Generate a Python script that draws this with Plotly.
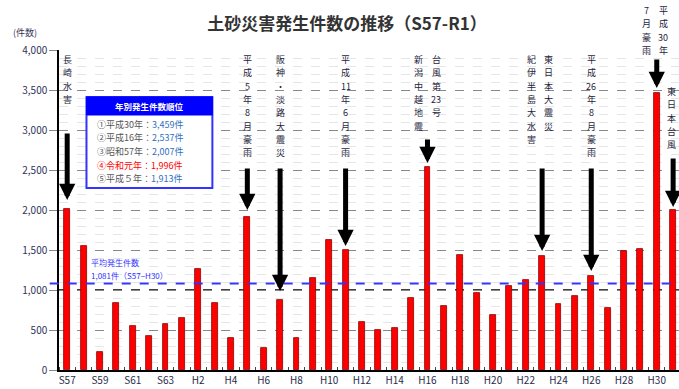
import plotly.graph_objects as go

# ---------------- data ----------------
categories = ["S57", "S58", "S59", "S60", "S61", "S62", "S63",
              "H1", "H2", "H3", "H4", "H5", "H6", "H7", "H8", "H9", "H10",
              "H11", "H12", "H13", "H14", "H15", "H16", "H17", "H18", "H19", "H20",
              "H21", "H22", "H23", "H24", "H25", "H26", "H27", "H28", "H29", "H30",
              "R1"]
counts = [2007, 1550, 220, 840, 550, 420, 570,
          650, 1260, 840, 400, 1913, 270, 875, 400, 1145, 1625,
          1500, 605, 500, 530, 895, 2537, 800, 1440, 960, 690,
          1055, 1125, 1420, 830, 930, 1180, 780, 1490, 1510, 3459,
          1996]
tick_labels = ["S57", "S59", "S61", "S63", "H2", "H4", "H6", "H8", "H10", "H12",
               "H14", "H16", "H18", "H20", "H22", "H24", "H26", "H28", "H30"]
average = 1081
avg_texts = ["平均発生件数", "1,081件（S57−H30）"]
ranking_title = "年別発生件数順位"
ranking = [("①平成30年：", "3,459件"), ("②平成16年：", "2,537件"), ("③昭和57年：", "2,007件"),
           ("④令和元年：", "1,996件"), ("⑤平成５年：", "1,913件")]
# events: (category, rows of vertical label)
events = [
    ("S57", [["長", "崎", "水", "害"]]),
    ("H5", [["平", "成", "5", "年", "8", "月", "豪", "雨"]]),
    ("H7", [["阪", "神", "・", "淡", "路", "大", "震", "災"]]),
    ("H11", [["平", "成", "11", "年", "6", "月", "豪", "雨"]]),
    ("H16", [["新", "潟", "中", "越", "地", "震"], ["台", "風", "第", "23", "号"]]),
    ("H23", [["紀", "伊", "半", "島", "大", "水", "害"], ["東", "日", "本", "大", "震", "災"]]),
    ("H26", [["平", "成", "26", "年", "8", "月", "豪", "雨"]]),
    ("H30", [["7", "月", "豪", "雨"], ["平", "成", "30", "年"]]),
    ("R1", [["東", "日", "本", "台", "風"]]),
]

FONT = "Noto Sans CJK JP, Noto Sans, sans-serif"
W, H = 679, 389
L, R, T, B = 58.5, 0, 50, 19
step = 16.39
xmax = -0.5 + (W - L - R) / step
ymax = 4000
ppu = (H - T - B) / ymax   # pixels per unit

xidx = list(range(len(categories)))
idx = {c: i for i, c in enumerate(categories)}

def px2y(p):
    return (H - B - p) / ppu

def px2py(p):
    return (H - B - p) / (H - T - B)

def px2x(p):
    return -0.5 + (p - L) / step

fig = go.Figure()
fig.add_trace(go.Bar(x=xidx, y=counts, width=0.36,
                     marker=dict(color="#FF0000", line=dict(color="#8B0000", width=0.8)),
                     hoverinfo="skip"))

shapes = []
annotations = []

# darker 1000 line and average line
shapes.append(dict(type="line", xref="paper", yref="y", x0=0, x1=1, y0=1000, y1=1000,
                   line=dict(color="#000000", width=1.3, dash="dash"), layer="below"))
shapes.append(dict(type="line", xref="paper", yref="y", x0=-0.015, x1=1, y0=average, y1=average,
                   line=dict(color="#3333FF", width=1.8, dash="dash"), layer="above"))

annotations.append(dict(x=px2x(89), y=px2y(262), xref="x", yref="y", text=avg_texts[0],
                        showarrow=False, xanchor="left", yanchor="middle",
                        font=dict(family=FONT, size=8, color="#3333FF")))
annotations.append(dict(x=px2x(89), y=px2y(275), xref="x", yref="y", text=avg_texts[1],
                        showarrow=False, xanchor="left", yanchor="middle",
                        font=dict(family=FONT, size=8, color="#3333FF")))

# ranking box
bx0, bx1, by0, by1, bh = 86, 212, 97, 188, 115
shapes.append(dict(type="rect", xref="x", yref="y", x0=px2x(bx0), x1=px2x(bx1),
                   y0=px2y(by1), y1=px2y(by0), fillcolor="white",
                   line=dict(color="#3333FF", width=2), layer="above"))
shapes.append(dict(type="rect", xref="x", yref="y", x0=px2x(bx0), x1=px2x(bx1),
                   y0=px2y(bh), y1=px2y(by0), fillcolor="#0000FF",
                   line=dict(color="#0000FF", width=1), layer="above"))
annotations.append(dict(x=px2x((bx0 + bx1) / 2), y=px2y((by0 + bh) / 2), xref="x", yref="y",
                        text="<b>" + ranking_title + "</b>", showarrow=False,
                        font=dict(family=FONT, size=8.5, color="white")))
for k, (lab, num) in enumerate(ranking):
    if k == 3:
        txt = f'<span style="color:#FF0000">{lab}{num}</span>'
    else:
        txt = f'<span style="color:#555555">{lab}</span><span style="color:#3070C0">{num}</span>'
    annotations.append(dict(x=px2x(95), y=px2y(124 + k * 13.7), xref="x", yref="y",
                            text=txt, showarrow=False, xanchor="left", yanchor="middle",
                            font=dict(family=FONT, size=9, color="#555555")))

# event labels and arrows (positions in pixels)
label_layout = {
    "S57": ([0.0], 53), "H5": ([0.0], 53), "H7": ([0.0], 53), "H11": ([0.0], 53),
    "H16": ([-0.57, 0.53], 53), "H23": ([-0.63, 0.38], 53), "H26": ([0.0], 53),
    "H30": ([-0.62, 0.39], 4), "R1": ([-0.1], 85),
}
arrow_layout = {
    "S57": (132, 200), "H5": (167, 210), "H7": (167, 291), "H11": (167, 246),
    "H16": (138, 163), "H23": (167, 251), "H26": (167, 271), "H30": (58, 88), "R1": (157, 207),
}
pitch = 13.3
for cat, cols in events:
    i = idx[cat]
    offs, top = label_layout[cat]
    for off, rows in zip(offs, cols):
        for k, ch in enumerate(rows):
            annotations.append(dict(x=i + off, y=px2py(top + pitch * (k + 0.5)),
                                    xref="x", yref="paper",
                                    text=ch, showarrow=False,
                                    xanchor="center", yanchor="middle",
                                    borderpad=0,
                                    font=dict(family=FONT, size=9, color="#1E1E3C")))
    t0, t1 = arrow_layout[cat]
    annotations.append(dict(x=i, y=px2y(t1), ax=i, ay=px2y(t0), xref="x", yref="y",
                            axref="x", ayref="y", text="", showarrow=True,
                            arrowhead=2, arrowsize=0.65, arrowwidth=5, arrowcolor="black"))

# axis unit label (paper coords are relative to the plot area)
annotations.append(dict(x=(10 - L) / (W - L - R), y=px2py(33),
                        xref="paper", yref="paper", text="(件数)",
                        showarrow=False, xanchor="left", yanchor="middle",
                        font=dict(family=FONT, size=9, color="#333355")))

fig.update_layout(
    width=W, height=H, autosize=False,
    margin=dict(l=L, r=R, t=T, b=B, pad=0),
    paper_bgcolor="white", plot_bgcolor="white",
    showlegend=False, bargap=0,
    title=dict(text="<b>土砂災害発生件数の推移（S57-R1）</b>", x=347 / W, xanchor="center",
               y=1 - 24 / H, yanchor="middle",
               font=dict(family=FONT, size=17, color="#333333")),
    xaxis=dict(range=[-0.5, xmax], tickmode="array",
               tickvals=[idx[t] for t in tick_labels], ticktext=tick_labels,
               showgrid=False, zeroline=False, showline=True, linecolor="black", linewidth=1.5,
               ticks="", tickfont=dict(family=FONT, size=10, color="#2B2B4B"),
               minor=dict(ticks="inside", tick0=0.5, dtick=1, ticklen=3, tickcolor="#444444",
                          showgrid=False),
               fixedrange=True),
    yaxis=dict(range=[0, ymax], tickmode="linear", tick0=0, dtick=500, tickformat=",",
               showgrid=True, gridcolor="#888888", griddash="dash", gridwidth=1,
               zeroline=False, showline=True, linecolor="black", linewidth=1.5,
               ticks="outside", ticklen=8, tickcolor="#888888",
               tickfont=dict(family=FONT, size=10, color="#333355"),
               minor=dict(dtick=100, showgrid=True, gridcolor="#E6E6E6", gridwidth=1),
               fixedrange=True),
    shapes=shapes, annotations=annotations,
)

fig.write_html("out.html")
